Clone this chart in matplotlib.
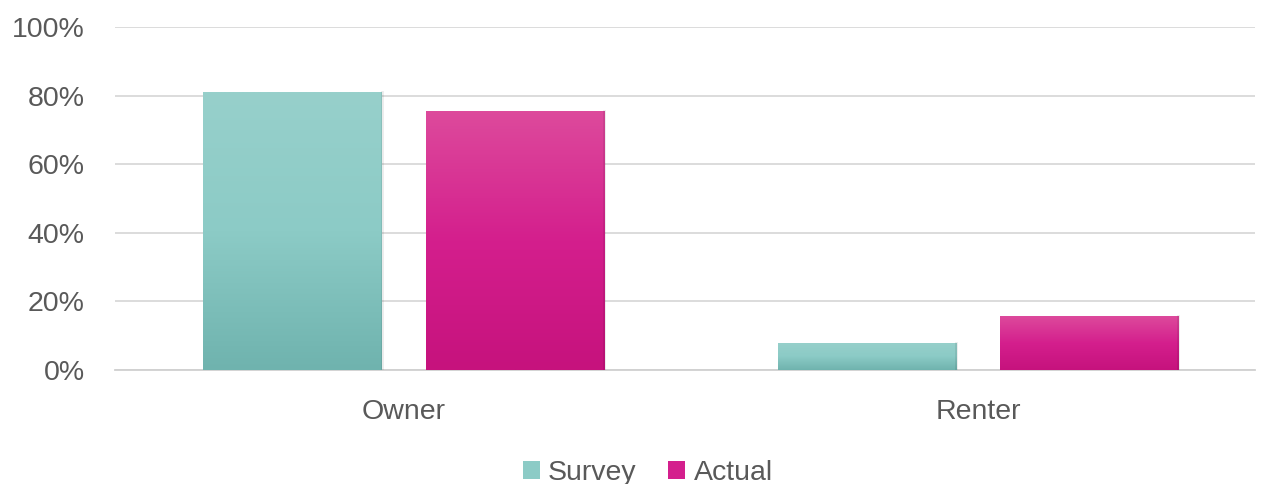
import numpy as np
import matplotlib.pyplot as plt
from matplotlib.colors import LinearSegmentedColormap
from matplotlib.ticker import PercentFormatter

categories = ["Owner", "Renter"]
survey = [0.81, 0.08]
actual = [0.755, 0.157]
series_names = ["Survey", "Actual"]

plt.rcParams['font.family'] = ['Liberation Sans', 'DejaVu Sans']
grey = "#595959"

fig = plt.figure(figsize=(12.65, 4.84), dpi=100)
ax = fig.add_axes((0.091, 0.2355, 0.901, 0.7085))

x = np.arange(len(categories))
w = 0.31
gap = 0.0766
teal_map = LinearSegmentedColormap.from_list("teal", ["#6fb3ae", "#8ccbc6", "#97d0cb"])
pink_map = LinearSegmentedColormap.from_list("pink", ["#c6127d", "#d41f8d", "#dd4a9c"])

def grad_bars(xs, vals, cmap, base, label):
    bars = ax.bar(xs, vals, w, color=base, label=label, zorder=3,
                  edgecolor="none")
    grad = np.linspace(0, 1, 256).reshape(-1, 1)
    for b in bars:
        x0, y0 = b.get_x(), b.get_y()
        im = ax.imshow(grad, cmap=cmap, origin="lower", aspect="auto",
                       extent=(x0, x0 + b.get_width(), y0, y0 + b.get_height()),
                       zorder=3.5)
        im.set_clip_path(b)
        # thin darker side edges
        ax.plot([x0 + b.get_width()] * 2, [y0, y0 + b.get_height()],
                color="#000000", alpha=0.08, lw=2, zorder=3.6)
    return bars

grad_bars(x - (w + gap) / 2, survey, teal_map, "#8ccbc6", series_names[0])
grad_bars(x + (w + gap) / 2, actual, pink_map, "#d41f8d", series_names[1])

ax.set_xlim(-0.502, 1.482)
ax.set_ylim(0, 1.0)
ax.set_yticks(np.arange(0, 1.01, 0.2))
ax.yaxis.set_major_formatter(PercentFormatter(1.0, decimals=0))
ax.set_xticks(x)
ax.set_xticklabels(categories)
ax.grid(axis="y", color="#d9d9d9", lw=1.3, zorder=0)
ax.set_axisbelow(True)
for s in ax.spines.values():
    s.set_visible(False)
ax.spines["bottom"].set_visible(True)
ax.spines["bottom"].set_color("#d0d0d0")
ax.spines["bottom"].set_linewidth(1.3)
ax.tick_params(length=0, labelsize=20.5, labelcolor=grey)
ax.tick_params(axis="y", pad=22)
ax.tick_params(axis="x", pad=21)

leg = fig.legend(loc="center", bbox_to_anchor=(0.512, 0.022), ncol=2, frameon=False,
                 fontsize=20.5, handlelength=0.6, handleheight=0.6,
                 handletextpad=0.3, columnspacing=1.1, labelcolor=grey)

fig.savefig("out.png", dpi=100)
